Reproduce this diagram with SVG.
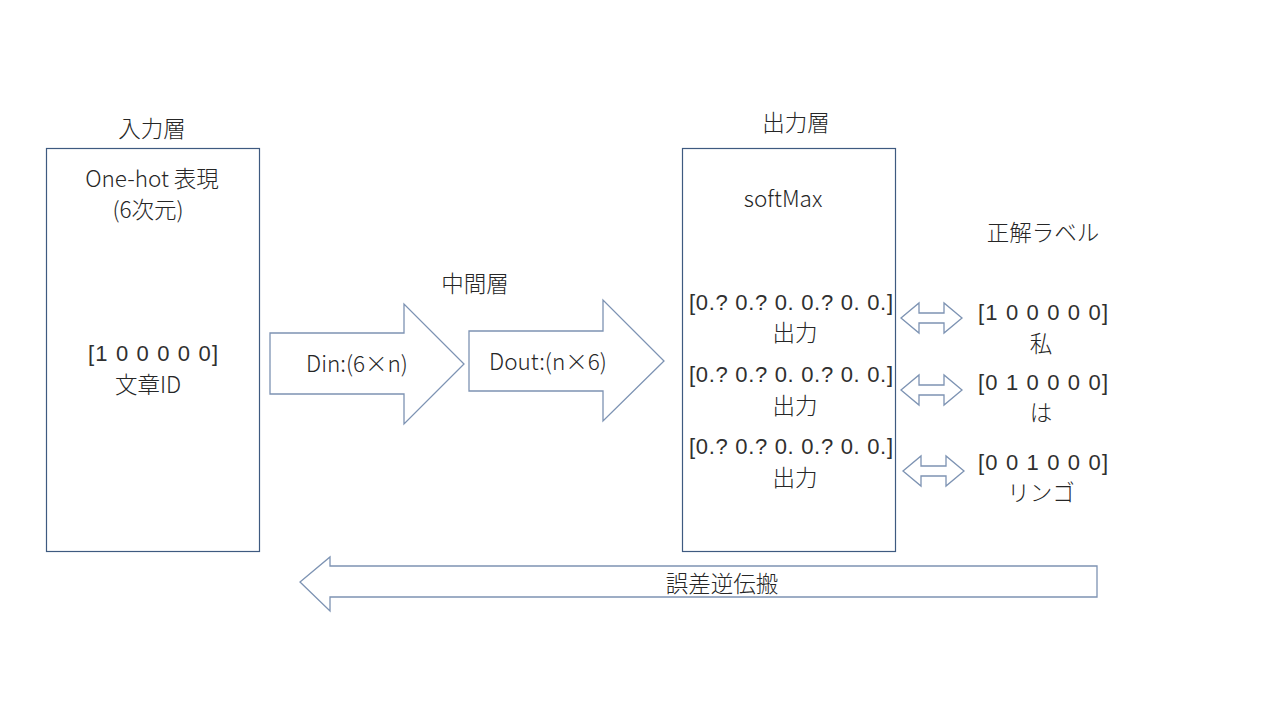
<svg xmlns="http://www.w3.org/2000/svg" width="1280" height="720" viewBox="0 0 1280 720">
<style>
text{font-family:"Noto Sans CJK JP","Noto Sans",sans-serif;font-size:22.5px;font-weight:300;fill:#262626;text-anchor:middle;dominant-baseline:central}
.v{font-family:"Liberation Sans",Arial,sans-serif;font-weight:400;font-size:22px;fill:#303030}
.box{fill:#fff;stroke:#3E5A80;stroke-width:1.2}
.arr{fill:#fff;stroke:#7D93B3;stroke-width:1.3}
</style>
<rect width="1280" height="720" fill="#fff"/>
<g id="input-layer">
<text x="152" y="127">入力層</text>
<rect class="box" x="46.5" y="148.5" width="213" height="403"/>
<text x="152" y="177">One-hot 表現</text>
<text x="148" y="208">(6次元)</text>
<text class="v" x="153" y="353" textLength="130" lengthAdjust="spacing">[1 0 0 0 0 0]</text>
<text x="148" y="383">文章ID</text>
</g>
<g id="hidden-layer">
<text x="475" y="282">中間層</text>
</g>
<g id="output-layer">
<text x="796" y="121">出力層</text>
<rect class="box" x="682.5" y="148.5" width="213" height="403"/>
<text x="783" y="197">softMax</text>
<text class="v" x="791" y="302" textLength="204" lengthAdjust="spacing">[0.? 0.? 0. 0.? 0. 0.]</text>
<text x="795" y="331">出力</text>
<text class="v" x="791" y="374" textLength="204" lengthAdjust="spacing">[0.? 0.? 0. 0.? 0. 0.]</text>
<text x="795" y="404">出力</text>
<text class="v" x="791" y="446" textLength="204" lengthAdjust="spacing">[0.? 0.? 0. 0.? 0. 0.]</text>
<text x="795" y="476">出力</text>
</g>
<g id="labels">
<text x="1043" y="231">正解ラベル</text>
<text class="v" x="1043" y="312" textLength="130" lengthAdjust="spacing">[1 0 0 0 0 0]</text>
<text x="1041" y="342">私</text>
<text class="v" x="1043" y="382" textLength="130" lengthAdjust="spacing">[0 1 0 0 0 0]</text>
<text x="1041" y="411">は</text>
<text class="v" x="1043" y="462" textLength="130" lengthAdjust="spacing">[0 0 1 0 0 0]</text>
<text x="1041" y="491">リンゴ</text>
</g>
<g id="connectors">
<path id="din" class="arr" d="M270,333 H404 V304 L464,364 L404,424 V394 H270 Z"/>
<path id="dout" class="arr" d="M469,331 H603 V300 L664,361 L603,421 V391 H469 Z"/>
<path class="arr" d="M901,318 L919,303 V313 H944 V303 L962,318 L944,333 V323 H919 V333 Z"/>
<path class="arr" d="M901,390 L919,375 V385 H944 V375 L962,390 L944,405 V395 H919 V405 Z"/>
<path class="arr" d="M903,471 L921,456 V466 H946 V456 L964,471 L946,486 V476 H921 V486 Z"/>
<path id="backprop" class="arr" d="M1097,566 H330 V557 L300,582 L330,611 V597 H1097 Z"/>
</g>
<g id="arrow-labels">
<text x="357" y="362">Din:(6×n)</text>
<text x="548" y="360">Dout:(n×6)</text>
<text x="722" y="582">誤差逆伝搬</text>
</g>
</svg>
